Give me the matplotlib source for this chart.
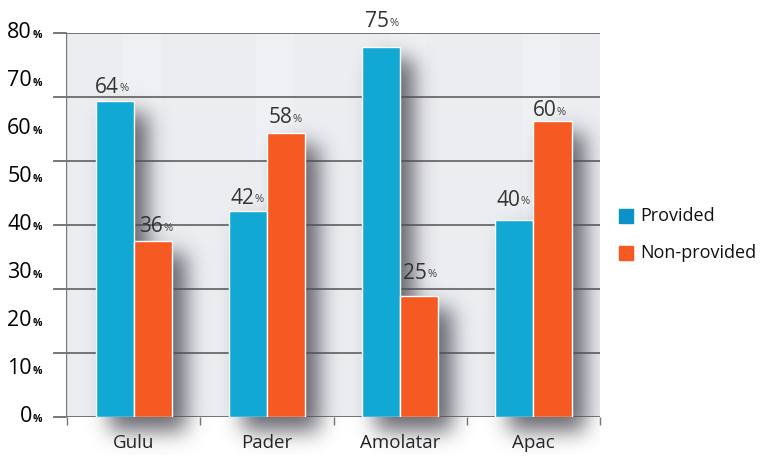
import numpy as np
import matplotlib
matplotlib.use("Agg")
import matplotlib.pyplot as plt
from matplotlib.patches import Rectangle

# ---- data ----
categories = ["Gulu", "Pader", "Amolatar", "Apac"]
provided_labels = [64, 42, 75, 40]
nonprovided_labels = [36, 58, 25, 60]
# bar heights as drawn in the picture (in the tick-label scale)
provided_bars = [65.8, 42.9, 77.1, 41.0]
nonprovided_bars = [36.7, 59.2, 25.2, 61.7]
ytick_values = [0, 10, 20, 30, 40, 50, 60, 70, 80]
series_names = ["Provided", "Non-provided"]

# label placement (pixels, style only)
prov_lab_dx = [4, 6, 8, 6]
prov_lab_dy = [14, 13, 25, 20]
nonp_lab_dx = [10, 6, 8, 4]
nonp_lab_dy = [14, 15, 23, 10]

BLUE = "#12a8d4"
ORANGE = "#f45a22"
LEG_BLUE = "#0a92c9"
FONT = "Open Sans"

W, H = 762, 457
fig = plt.figure(figsize=(W / 100, H / 100), dpi=100)
fig.patch.set_facecolor("white")

ax_l, ax_r, ax_t, ax_b = 66, 600, 33, 417
ax = fig.add_axes([ax_l / W, 1 - ax_b / H, (ax_r - ax_l) / W, (ax_b - ax_t) / H])
ax.set_facecolor("#ecedf1")
XL = (-0.51, 3.5)
ax.set_xlim(*XL)
ax.set_ylim(0, 80)
for s in ax.spines.values():
    s.set_visible(False)

x = np.arange(len(categories))
bw = 0.286

# subtle vertical light bands
for i in x:
    ax.axvspan(i - 0.5 + 0.42, i - 0.5 + 0.7, color="white", alpha=0.2, lw=0, zorder=0)

# gridlines (6 intervals, independent of labels as in the original)
for gyv in np.linspace(0, 80, 7):
    ax.axhline(gyv, color="#6b6b6b", lw=1.3, zorder=1)
    ax.plot([-0.6, -0.51], [gyv, gyv], color="#6b6b6b", lw=1.3, clip_on=False, zorder=1)
ax.axvline(-0.51, color="#7a7a7a", lw=1.0, zorder=1)

# ---- blurred drop shadows (image in data coords) ----
Y0, Y1 = -8.0, 80.0
nx, ny = 534, int(round((Y1 - Y0) * 4.8))
gx = np.linspace(XL[0], XL[1], nx)
gy = np.linspace(Y1, Y0, ny)
mask = np.zeros((ny, nx))
px_x = (XL[1] - XL[0]) / nx
px_y = 80 / 384
def add_rect(x0, x1, top):
    xs = (gx >= x0) & (gx <= x1)
    ys = (gy <= top) & (gy >= -3.0)
    mask[np.ix_(ys, xs)] = 1.0
dx = 14 * px_x
dy = 13 * px_y
for i in x:
    add_rect(i - bw + dx, i + dx, provided_bars[i] - dy)
    add_rect(i + dx, i + bw + dx, nonprovided_bars[i] - dy)
sig = 10.5
k = np.arange(-36, 37)
ker = np.exp(-k ** 2 / (2 * sig ** 2)); ker /= ker.sum()
blur = np.apply_along_axis(lambda r: np.convolve(r, ker, mode="same"), 1, mask)
blur = np.apply_along_axis(lambda c: np.convolve(c, ker, mode="same"), 0, blur)
rgba = np.zeros((ny, nx, 4))
rgba[..., 0] = 0.30
rgba[..., 1] = 0.30
rgba[..., 2] = 0.34
rgba[..., 3] = np.clip(blur * 0.85, 0, 1)
ax.imshow(rgba, extent=(XL[0], XL[1], Y0, Y1), aspect="auto", zorder=2,
          interpolation="bilinear", clip_on=False)
ax.set_xlim(*XL)
ax.set_ylim(0, 80)

ax.bar(x - bw / 2, provided_bars, width=bw, color=BLUE, edgecolor="white", lw=1.0, zorder=3)
ax.bar(x + bw / 2, nonprovided_bars, width=bw, color=ORANGE, edgecolor="white", lw=1.0, zorder=3)

# value labels
def vlabel(xc, h, val, dxp, dyp):
    ax.annotate(str(val), (xc, h), xytext=(dxp * 0.72, dyp * 0.72), textcoords="offset points",
                ha="right", va="center", fontsize=15, color="#333333", family=FONT,
                annotation_clip=False, zorder=4)
    ax.annotate("%", (xc, h), xytext=(dxp * 0.72 + 0.3, dyp * 0.72 - 1), textcoords="offset points",
                ha="left", va="center", fontsize=8, color="#444444", family=FONT,
                annotation_clip=False, zorder=4)

for i in x:
    vlabel(i - bw / 2, provided_bars[i], provided_labels[i], prov_lab_dx[i], prov_lab_dy[i])
    vlabel(i + bw / 2, nonprovided_bars[i], nonprovided_labels[i], nonp_lab_dx[i], nonp_lab_dy[i])

# y tick labels
ax.set_yticks([])
ytr = ax.get_yaxis_transform()
for v in ytick_values:
    ax.text(-0.064, v, str(v), transform=ytr, ha="right", va="center", fontsize=15.5,
            color="#000000", family=FONT, fontweight="medium")
    ax.text(-0.063, v - 0.5, "%", transform=ytr, ha="left", va="center", fontsize=7.5,
            color="#000000", family=FONT, fontweight="bold")

# x ticks
ax.set_xticks(x)
ax.set_xticklabels(categories, fontsize=13.5, color="#222222", family=FONT)
ax.tick_params(axis="x", length=0, pad=12)
ax.set_xticks(np.arange(-0.5, 4.0, 1.0), minor=True)
ax.tick_params(axis="x", which="minor", length=6, width=1, color="#777777", direction="out")

# legend (manual)
for j, (name, col) in enumerate(zip(series_names, [LEG_BLUE, ORANGE])):
    yc = [216, 253][j]
    fig.patches.append(Rectangle((619 / W, 1 - (yc + 7) / H), 14 / W, 14 / H,
                                 color=col, transform=fig.transFigure, figure=fig))
    fig.text(640 / W, 1 - yc / H, name, ha="left", va="center", fontsize=13,
             color="#111111", family=FONT)

fig.savefig("out.png", dpi=100)
